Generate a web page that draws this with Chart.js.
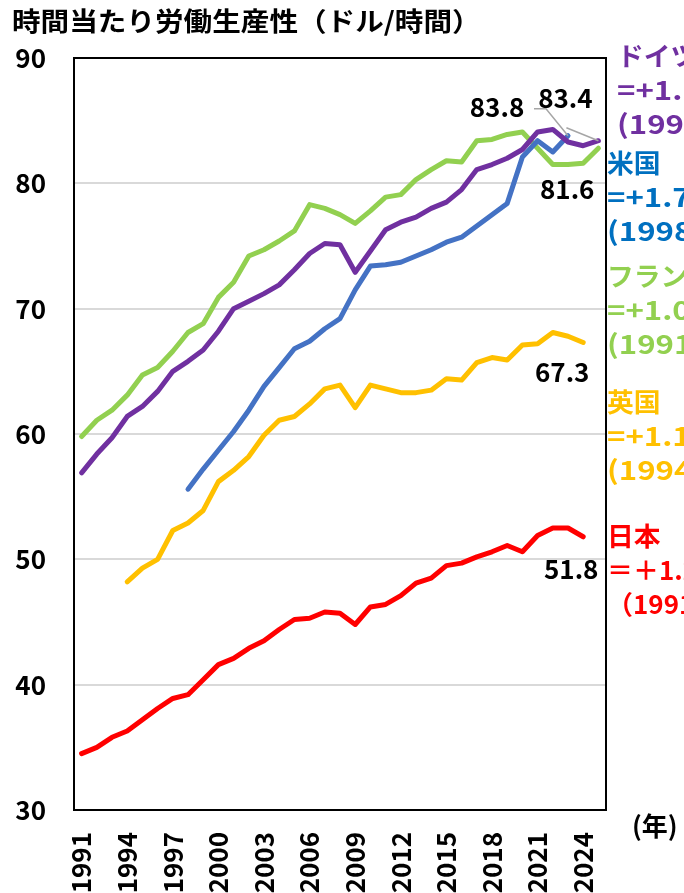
<!DOCTYPE html>
<html>
<head>
<meta charset="utf-8">
<script src="https://cdn.jsdelivr.net/npm/chart.js@4"></script>
<style>
  body { margin: 0; background: #fff; }
  canvas { display: block; }
</style>
</head>
<body>
<canvas id="myChart" width="684" height="893"></canvas>
<script>
const years = ['1991','1992','1993','1994','1995','1996','1997','1998','1999','2000',
  '2001','2002','2003','2004','2005','2006','2007','2008','2009','2010',
  '2011','2012','2013','2014','2015','2016','2017','2018','2019','2020',
  '2021','2022','2023','2024','2025'];

const japan = [34.5,35.0,35.8,36.3,37.2,38.1,38.9,39.2,40.4,41.6,
  42.1,42.9,43.5,44.4,45.2,45.3,45.8,45.7,44.8,46.2,
  46.4,47.1,48.1,48.5,49.5,49.7,50.2,50.6,51.1,50.6,
  51.9,52.5,52.5,51.8,null];
const uk = [null,null,null,48.2,49.3,50.0,52.3,52.9,53.9,56.2,
  57.1,58.2,59.9,61.1,61.4,62.4,63.6,63.9,62.1,63.9,
  63.6,63.3,63.3,63.5,64.4,64.3,65.7,66.1,65.9,67.1,
  67.2,68.1,67.8,67.3,null];
const us = [null,null,null,null,null,null,null,55.6,57.2,58.7,
  60.2,61.9,63.8,65.3,66.8,67.4,68.4,69.2,71.5,73.4,
  73.5,73.7,74.2,74.7,75.3,75.7,76.6,77.5,78.4,82.1,
  83.4,82.5,83.8,null,null];
const france = [59.8,61.1,61.9,63.1,64.7,65.3,66.6,68.1,68.8,70.9,
  72.1,74.2,74.7,75.4,76.2,78.3,78.0,77.5,76.8,77.8,
  78.9,79.1,80.3,81.1,81.8,81.7,83.4,83.5,83.9,84.1,
  82.8,81.5,81.5,81.6,82.8];
const germany = [56.9,58.4,59.7,61.4,62.2,63.4,65.0,65.8,66.7,68.2,
  70.0,70.6,71.2,71.9,73.1,74.4,75.2,75.1,72.9,74.6,
  76.3,76.9,77.3,78.0,78.5,79.5,81.1,81.5,82.0,82.7,
  84.1,84.3,83.3,83.0,83.4];

const yTicks = [30, 40, 50, 60, 70, 80, 90];

const FONT = "'Noto Sans CJK JP', 'Noto Sans', sans-serif";

// right-hand notes per country (name, growth, period)
const notes = [
  { lines: ['ドイツ', '=+1.1%', '(1991-2025)'], color: '#7030A0', x: 617, y: 56, wide: 1.2 },
  { lines: ['米国', '=+1.7%', '(1998-2023)'], color: '#0070C0', x: 607, y: 163, wide: 1.2 },
  { lines: ['フランス', '=+1.0%', '(1991-2025)'], color: '#92D050', x: 607, y: 276, wide: 1.2 },
  { lines: ['英国', '=+1.1%', '(1994-2024)'], color: '#FFC000', x: 607, y: 402, wide: 1.2 },
  { lines: ['日本', '＝＋1.2%', '（1991-2024）'], color: '#FF0000', x: 607, y: 536, wide: 1.0 }
];

// end-value labels: dataset index, category index, offset of label centre
const endLabels = [
  { ds: 0, i: 33, dx: -12, dy: 32 },
  { ds: 1, i: 33, dx: -21, dy: 30 },
  { ds: 3, i: 33, dx: -16, dy: 26 },
  { ds: 2, i: 32, dx: -71, dy: -29, leader: [[-34, -27], [-22, -27]] },
  { ds: 4, i: 34, dx: -33, dy: -43, leader: [[-32, -13]] }
];

function wideText(ctx, text, x, y, sx) {
  ctx.save();
  ctx.translate(x, y);
  ctx.scale(sx, 1);
  ctx.fillText(text, 0, 0);
  ctx.restore();
}

const annot = {
  id: 'annot',
  beforeDatasetsDraw(chart) {
    const { ctx, chartArea: a } = chart;
    ctx.save();
    ctx.strokeStyle = '#000';
    ctx.lineWidth = 2;
    ctx.strokeRect(a.left, a.top, a.right - a.left, a.bottom - a.top);
    ctx.restore();
  },
  afterDraw(chart) {
    const { ctx, scales: { x, y } } = chart;
    ctx.save();

    // title
    ctx.fillStyle = '#000';
    ctx.font = 'bold 26px ' + FONT;
    ctx.textBaseline = 'middle';
    ctx.textAlign = 'left';
    wideText(ctx, '時間当たり労働生産性（ドル/時間）', 12, 21, 1.1);

    // year unit
    ctx.fillText('(年)', 632, 826);

    // end labels with leader lines
    endLabels.forEach(l => {
      const v = chart.data.datasets[l.ds].data[l.i];
      const px = x.getPixelForValue(l.i);
      const py = y.getPixelForValue(v);
      if (l.leader) {
        ctx.strokeStyle = '#a6a6a6';
        ctx.lineWidth = 1.5;
        ctx.beginPath();
        l.leader.forEach((p, k) => {
          if (k === 0) ctx.moveTo(px + p[0], py + p[1]);
          else ctx.lineTo(px + p[0], py + p[1]);
        });
        ctx.lineTo(px, py);
        ctx.stroke();
      }
      ctx.fillStyle = '#000';
      ctx.textAlign = 'center';
      ctx.fillText(v.toFixed(1), px + l.dx, py + l.dy);
    });

    // country notes
    ctx.textAlign = 'left';
    notes.forEach(n => {
      ctx.fillStyle = n.color;
      n.lines.forEach((t, k) => {
        wideText(ctx, t, n.x, n.y + k * 34, k === 0 ? 1.03 : n.wide);
      });
    });
    ctx.restore();
  }
};

const lineStyle = {
  borderWidth: 5,
  pointRadius: 0,
  tension: 0,
  borderJoinStyle: 'round',
  borderCapStyle: 'round',
  fill: false
};

const config = {
  type: 'line',
  data: {
    labels: years,
    datasets: [
      { label: '日本', data: japan, borderColor: '#FF0000', ...lineStyle },
      { label: '英国', data: uk, borderColor: '#FFC000', ...lineStyle },
      { label: '米国', data: us, borderColor: '#4472C4', ...lineStyle },
      { label: 'フランス', data: france, borderColor: '#92D050', ...lineStyle, order: 2 },
      { label: 'ドイツ', data: germany, borderColor: '#7030A0', ...lineStyle, order: -1 }
    ]
  },
  options: {
    responsive: false,
    animation: false,
    layout: { padding: { top: 58, right: 78, left: 0, bottom: 0 } },
    plugins: {
      legend: { display: false },
      tooltip: { enabled: false },
      title: { display: false }
    },
    scales: {
      x: {
        offset: true,
        grid: { display: false },
        border: { display: false },
        ticks: {
          autoSkip: false,
          minRotation: 90,
          maxRotation: 90,
          padding: 14,
          color: '#000',
          font: { family: FONT, size: 26, weight: 'bold' },
          callback: function (v, i) {
            return i % 3 === 0 ? this.getLabelForValue(v) : null;
          }
        },
        afterFit(scale) { scale.height = 83; }
      },
      y: {
        min: yTicks[0],
        max: yTicks[yTicks.length - 1],
        afterBuildTicks(scale) { scale.ticks = yTicks.map(v => ({ value: v })); },
        grid: { color: '#d9d9d9', lineWidth: 2, drawTicks: false },
        border: { display: false },
        ticks: {
          padding: 28,
          color: '#000',
          font: { family: FONT, size: 26, weight: 'bold' }
        },
        afterFit(scale) { scale.width = 74; }
      }
    }
  },
  plugins: [annot]
};

const ctx = document.getElementById('myChart').getContext('2d');
new Chart(ctx, config);
</script>
</body>
</html>
